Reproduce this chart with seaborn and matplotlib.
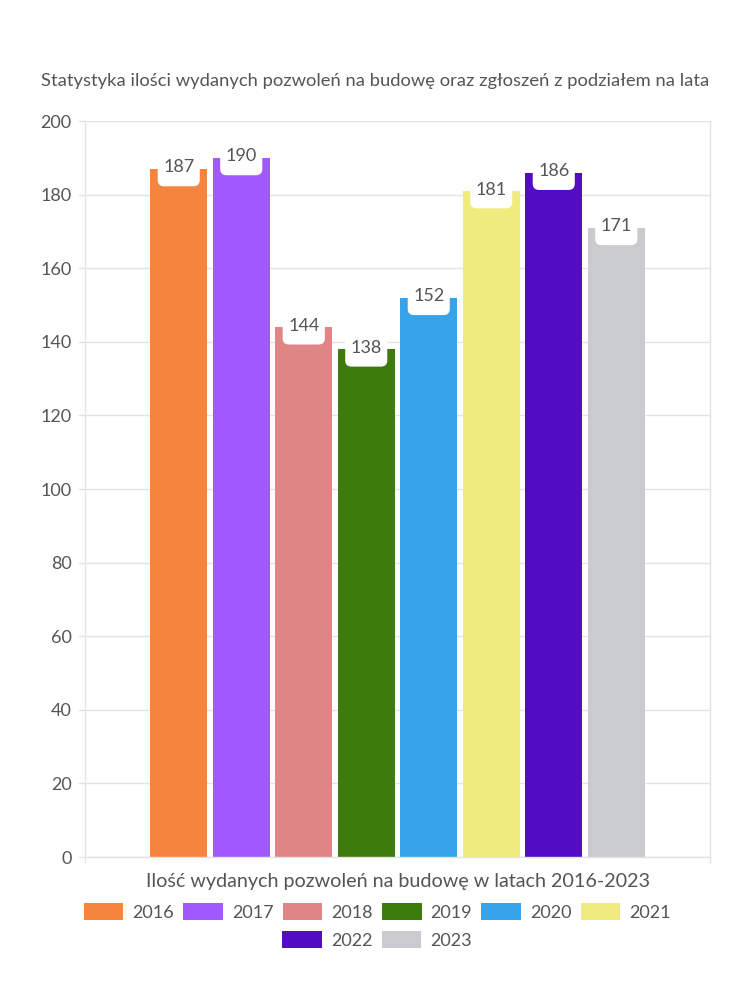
import matplotlib
matplotlib.use("Agg")
import matplotlib.pyplot as plt
import seaborn as sns
import pandas as pd
from matplotlib.patches import Patch, BoxStyle

years = ["2016", "2017", "2018", "2019", "2020", "2021", "2022", "2023"]
values = [187, 190, 144, 138, 152, 181, 186, 171]
colors = ["#F5843F", "#A05AFF", "#E08585", "#3D7B0C", "#37A3EA", "#F0EB7D", "#510CC4", "#CACBCF"]
title = "Statystyka ilości wydanych pozwoleń na budowę oraz zgłoszeń z podziałem na lata"
xlabel = "Ilość wydanych pozwoleń na budowę w latach 2016-2023"
yticks = list(range(0, 201, 20))

sns.set_theme(style="white")
plt.rcParams["font.family"] = ["Lato", "DejaVu Sans"]
TXT = "#555555"
GRID = "#e3e3e3"

df = pd.DataFrame({"cat": [""] * len(years), "year": years, "value": values})

fig = plt.figure(figsize=(7.5, 10), dpi=100)
ax = fig.add_axes([0.1133, 0.143, 0.8334, 0.736])

sns.barplot(data=df, x="cat", y="value", hue="year", palette=colors,
            width=0.8, gap=0.09, legend=False, ax=ax, saturation=1,
            linewidth=0)

ax.set_xlim(-0.5, 0.5)
ax.set_ylim(0, 200)
ax.set_yticks(yticks)
ax.set_xticks([-0.5, 0.5])
ax.set_xticklabels(["", ""])
ax.tick_params(axis="y", colors=GRID, labelcolor=TXT, labelsize=13, length=5, width=1, left=True, pad=4.5)
ax.tick_params(axis="x", colors=GRID, length=4, width=1, bottom=True)
ax.yaxis.grid(True, color=GRID, linewidth=1)
ax.set_axisbelow(True)
for s in ["left", "right", "bottom"]:
    ax.spines[s].set_visible(True)
    ax.spines[s].set_color(GRID)
    ax.spines[s].set_linewidth(1)
ax.spines["top"].set_visible(False)
ax.set_ylabel("")
ax.set_xlabel(xlabel, fontsize=14.2, color=TXT, labelpad=4)

_round = BoxStyle.Round(pad=0, rounding_size=0.35)


def label_box(x0, y0, width, height, mutation_size):
    px = 0.3 * mutation_size
    ptop = 0.45 * mutation_size
    pbot = 0.6 * mutation_size
    return _round(x0 - px, y0 - pbot, width + 2 * px, height + ptop + pbot, mutation_size)


for bar in ax.patches:
    h = bar.get_height()
    if h <= 0:
        continue
    x = bar.get_x() + bar.get_width() / 2
    ax.annotate(f"{int(round(h))}", (x, h), xytext=(0, 1), textcoords="offset points",
                ha="center", va="center", fontsize=13, color=TXT,
                bbox=dict(boxstyle=label_box, fc="white", ec="none"))

fig.text(0.5, 0.919, title, ha="center", va="center", fontsize=13.25, color=TXT)

handles = [Patch(facecolor=c, edgecolor="none") for c in colors]
kw = dict(frameon=False, fontsize=13, handlelength=2.2, handleheight=1.0,
          handletextpad=0.5, columnspacing=0.5, labelcolor=TXT, borderaxespad=0)
leg1 = fig.legend(handles[:6], years[:6], ncol=6, loc="center", bbox_to_anchor=(0.503, 0.088), **kw)
leg2 = fig.legend(handles[6:], years[6:], ncol=2, loc="center", bbox_to_anchor=(0.503, 0.060), **kw)

fig.savefig("out.png", dpi=100, facecolor="white")
